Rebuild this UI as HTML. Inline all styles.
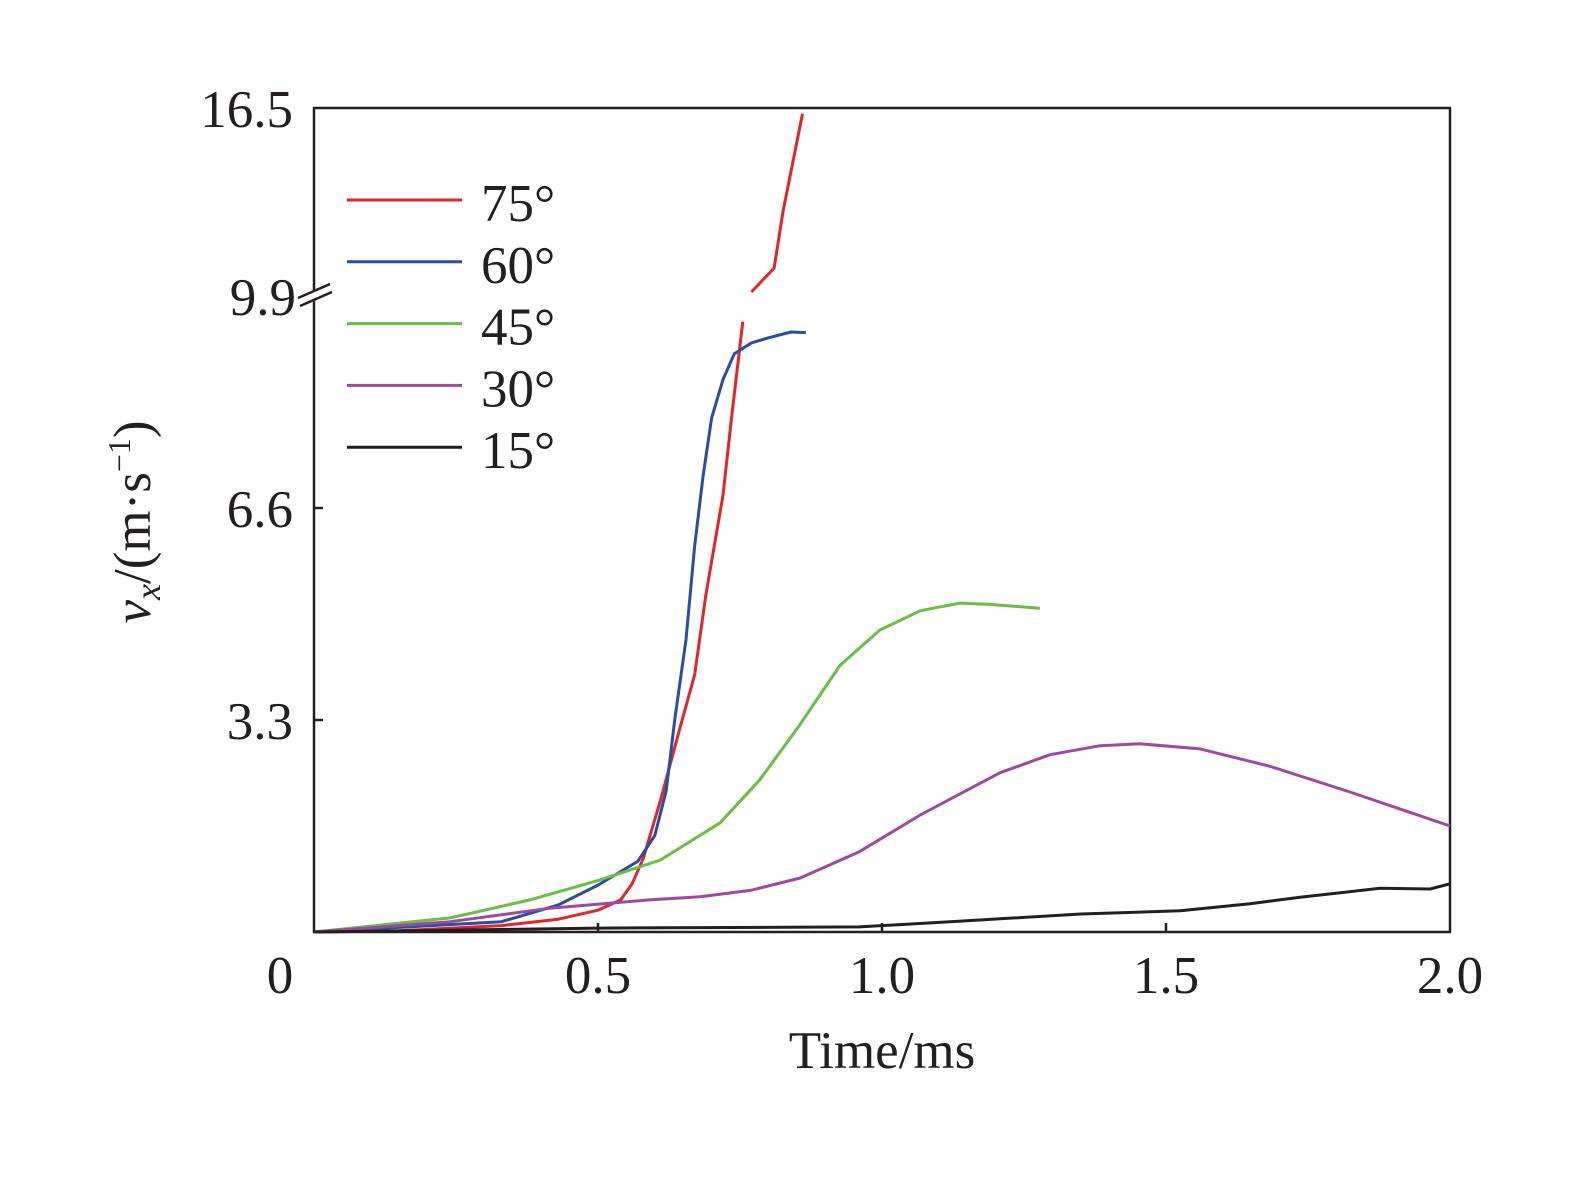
<!DOCTYPE html>
<html><head><meta charset="utf-8"><style>
body{margin:0;background:#fff}
svg text{font-family:"Liberation Serif",serif;fill:#231f20}
</style></head><body>
<svg width="1575" height="1172" viewBox="0 0 1575 1172">
<g id="plot"></g>
</svg>
<script>
const xTicks=[0,0.5,1.0,1.5,2.0];
const xTickLabels=["0","0.5","1.0","1.5","2.0"];
const yTicks=[3.3,6.6,9.9,16.5];
const yTickLabels=["3.3","6.6","9.9","16.5"];
const seriesNames=["75°","60°","45°","30°","15°"];
const seriesColors=["#e3242b","#2a4da0","#6abd45","#9a4b9f","#231f20"];
const t75=[0,0.15,0.33,0.43,0.50,0.54,0.56,0.58,0.61,0.645,0.67,0.69,0.72,0.735,0.755,null,0.77,0.81,0.826,0.86];
const v75=[0,0.02,0.1,0.2,0.34,0.5,0.75,1.15,2.05,3.2,4.0,5.25,6.8,8.0,9.5,null,10.04,10.88,12.9,16.3];
const t60=[0,0.33,0.43,0.5,0.57,0.6,0.62,0.635,0.655,0.67,0.685,0.70,0.72,0.74,0.77,0.80,0.84,0.866];
const v60=[0,0.16,0.42,0.73,1.1,1.5,2.2,3.3,4.55,6.0,7.1,8.0,8.6,9.0,9.17,9.25,9.34,9.33];
const t45=[0,0.24,0.38,0.5,0.61,0.715,0.785,0.855,0.926,0.996,1.067,1.137,1.19,1.278];
const v45=[0,0.22,0.5,0.8,1.12,1.7,2.37,3.22,4.15,4.7,5.0,5.12,5.1,5.04];
const t30=[0,0.24,0.415,0.59,0.68,0.77,0.856,0.96,1.067,1.208,1.296,1.384,1.454,1.56,1.683,1.824,2.0];
const v30=[0,0.16,0.37,0.5,0.55,0.65,0.84,1.25,1.82,2.48,2.76,2.9,2.93,2.85,2.58,2.18,1.65];
const t15=[0,0.5,0.96,1.12,1.35,1.525,1.648,1.736,1.877,1.965,2.0];
const v15=[0,0.06,0.08,0.16,0.28,0.33,0.44,0.54,0.68,0.67,0.75];

const L=314,R=1450,T=108,B=932,YB=296;
function X(t){return L+t*(R-L)/2;}
function Y(v){return v<=9.9?B-v*(B-YB)/9.9:YB-(v-9.9)*(YB-T)/6.6;}
const NS="http://www.w3.org/2000/svg";
const g=document.getElementById('plot');
function mk(tag,attrs,parent){const e=document.createElementNS(NS,tag);for(const k in attrs)e.setAttribute(k,attrs[k]);(parent||g).appendChild(e);return e;}

let e=mk('path',{d:`M${L},${YB+4}V${B}H${R}V${T}H${L}V${YB-6}`,fill:'none',stroke:'#231f20','stroke-width':2.5});


e=mk('path',{d:`M298,${YB+2}L330,${YB-12}M300,${YB+10}L332,${YB-4}`,stroke:'#231f20','stroke-width':2.5,fill:'none'});



xTicks.forEach((t,i)=>{
  if(i>0&&i<xTicks.length-1){const tk=mk('line',{x1:X(t),x2:X(t),y1:B,y2:B-9,stroke:'#231f20','stroke-width':2.5});
  
  }
  const tx=mk('text',{x:X(t)-(i==0?34:0),y:993,'text-anchor':'middle','font-size':53});
  tx.textContent=xTickLabels[i];
  
  
});
yTicks.forEach((v,i)=>{
  if(i<2){const tk=mk('line',{x1:L,x2:L+9,y1:Y(v),y2:Y(v),stroke:'#231f20','stroke-width':2.5});
  
  }
  const tx=mk('text',{x:i==2?296:293,y:Y(v)+19,'text-anchor':'end','font-size':53});
  tx.textContent=yTickLabels[i];
  
  
});

const ts=[t75,t60,t45,t30,t15],vs=[v75,v60,v45,v30,v15];
ts.forEach((tt,si)=>{
  let d='',pen=false;
  tt.forEach((t,i)=>{ if(t===null){pen=false;return;} d+=(pen?'L':'M')+X(t).toFixed(1)+','+Y(vs[si][i]).toFixed(1); pen=true;});
  const p=mk('path',{d:d,fill:'none',stroke:seriesColors[si],'stroke-width':3,'stroke-linejoin':'round'});
  
  
  const ly=200+si*61.8;
  const ll=mk('line',{x1:347,x2:462,y1:ly,y2:ly,stroke:seriesColors[si],'stroke-width':3});
  
  
  const lt=mk('text',{x:481,y:ly+21,'font-size':53});
  lt.textContent=seriesNames[si];
  
  
});

const xt=mk('text',{x:882,y:1068,'text-anchor':'middle','font-size':53});
xt.textContent='Time/ms';


const yt=mk('text',{transform:'translate(150,522) rotate(-90)','text-anchor':'middle','font-size':53});
yt.innerHTML='<tspan font-style="italic">v</tspan><tspan font-style="italic" font-size="36" dy="10">x</tspan><tspan dy="-10">/(m·s</tspan><tspan font-size="32" dy="-20">−1</tspan><tspan dy="20">)</tspan>';


</script>
</body></html>
